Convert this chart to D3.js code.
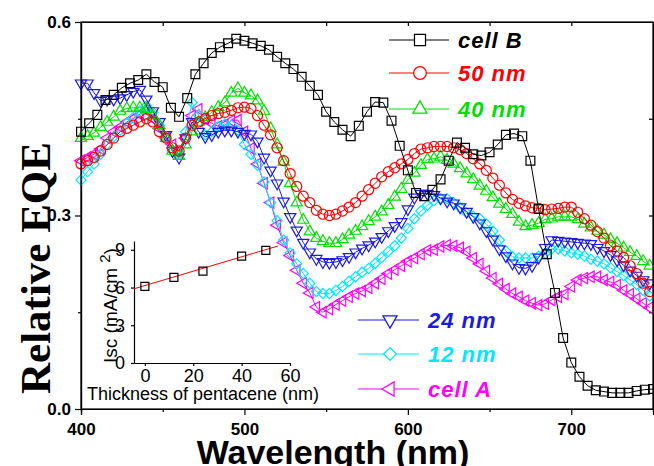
<!DOCTYPE html>
<html>
<head>
<meta charset="utf-8">
<script src="https://cdnjs.cloudflare.com/ajax/libs/d3/7.8.5/d3.min.js"></script>
<style>
body { margin: 0; background: #fff; }
svg { display: block; font-family: "Liberation Sans", Arial, sans-serif; }
.tick text { font-weight: bold; font-size: 17px; fill: #000; }
.inset .tick text { font-weight: normal; font-size: 18px; }
.domain { stroke: #000; stroke-width: 1.2; }
.tick line { stroke: #000; stroke-width: 1.2; }
.leg { font-weight: bold; font-style: italic; font-size: 22px; letter-spacing: 1px; }
</style>
</head>
<body>
<script>
// wavelength grids (nm)
var wlB = d3.range(400, 751, 5);   // cell B measured every 5 nm
var wl  = d3.range(400, 749, 4);   // the other cells every 4 nm

var cellB = [
  .43,.443,.456,.479,.487,.498,.505,.51,.519,.507,
  .499,.467,.453,.482,.519,.536,.552,.561,.567,.574,
  .571,.567,.563,.557,.546,.536,.527,.515,.501,.487,
  .461,.445,.433,.423,.439,.461,.476,.475,.447,.408,
  .37,.335,.33,.34,.356,.385,.413,.405,.395,.393,
  .398,.41,.425,.427,.423,.385,.31,.24,.18,.11,
  .072,.05,.036,.029,.027,.025,.025,.025,.028,.03,
  .031];

var nm50 = [
  .38,.385,.39,.40,.41,.42,.43,.435,.44,.445,
  .45,.445,.43,.42,.405,.40,.42,.44,.445,.45,
  .455,.458,.46,.463,.467,.468,.466,.455,.44,.425,
  .405,.385,.365,.345,.33,.32,.308,.302,.30,.302,
  .307,.313,.32,.33,.34,.35,.36,.368,.374,.38,
  .387,.396,.403,.405,.407,.407,.407,.405,.402,.396,
  .388,.38,.37,.358,.347,.335,.325,.319,.315,.312,
  .311,.309,.31,.311,.313,.313,.305,.295,.285,.275,
  .265,.253,.245,.235,.222,.21,.195,.182];

var nm40 = [
  .42,.423,.428,.437,.445,.453,.462,.466,.467,.467,
  .465,.455,.44,.42,.40,.392,.41,.43,.445,.452,
  .46,.468,.475,.49,.497,.49,.486,.478,.462,.435,
  .41,.383,.35,.32,.293,.275,.265,.26,.257,.257,
  .263,.27,.276,.283,.291,.298,.306,.316,.329,.341,
  .355,.366,.378,.387,.388,.391,.386,.38,.373,.365,
  .356,.346,.338,.328,.318,.31,.302,.29,.283,.285,
  .288,.294,.295,.298,.298,.298,.294,.287,.281,.276,
  .27,.263,.257,.25,.243,.237,.229,.222];

var nm24 = [
  .505,.505,.49,.478,.48,.48,.482,.487,.492,.495,
  .48,.462,.445,.425,.40,.39,.42,.445,.43,.422,
  .425,.43,.432,.432,.43,.427,.426,.415,.39,.37,
  .35,.322,.298,.277,.258,.243,.233,.228,.227,.228,
  .231,.236,.243,.249,.254,.26,.267,.276,.284,.29,
  .31,.328,.334,.334,.332,.327,.322,.319,.313,.306,
  .298,.288,.276,.263,.248,.237,.226,.219,.218,.222,
  .235,.25,.262,.261,.26,.259,.258,.257,.256,.25,
  .245,.239,.231,.223,.215,.207,.2,.195];

var nm12 = [
  .355,.368,.38,.395,.41,.422,.432,.443,.452,.462,
  .47,.46,.44,.42,.40,.395,.43,.475,.455,.425,
  .43,.438,.442,.44,.432,.41,.395,.378,.352,.32,
  .292,.262,.242,.225,.21,.195,.182,.179,.179,.184,
  .19,.198,.205,.212,.218,.226,.235,.244,.253,.265,
  .28,.295,.307,.316,.323,.326,.326,.32,.312,.304,
  .299,.295,.287,.276,.262,.245,.236,.234,.234,.234,
  .237,.241,.248,.248,.245,.242,.24,.237,.232,.229,
  .225,.219,.213,.207,.2,.193,.184,.175];

var cellA = [
  .385,.39,.395,.403,.42,.43,.437,.445,.45,.457,
  .463,.45,.435,.42,.41,.40,.42,.455,.465,.45,
  .443,.438,.44,.447,.448,.43,.404,.38,.35,.32,
  .285,.258,.238,.215,.195,.18,.158,.15,.155,.162,
  .168,.174,.179,.183,.188,.195,.202,.21,.216,.222,
  .229,.234,.24,.246,.247,.252,.254,.253,.25,.244,
  .234,.225,.214,.203,.194,.186,.179,.174,.168,.164,
  .161,.163,.169,.174,.178,.19,.2,.203,.205,.205,
  .2,.197,.192,.184,.178,.171,.164,.157];

// inset: short-circuit current vs pentacene thickness
var thick = [0, 12, 24, 40, 50];
var isc = [6.1, 6.8, 7.3, 8.5, 8.95];
var fitX = [-4.5, 55];
var fitY = [5.9, 9.3];

var xTicks = [400, 500, 600, 700];
var yTicks = [0, 0.3, 0.6];

var series = [
  { name: "cell A", x: wl,  y: cellA, color: "#ff00ff", shape: "left" },
  { name: "12 nm",  x: wl,  y: nm12,  color: "#00e8ff", shape: "diamond" },
  { name: "24 nm",  x: wl,  y: nm24,  color: "#1a1ae6", shape: "down" },
  { name: "40 nm",  x: wl,  y: nm40,  color: "#00e000", shape: "up" },
  { name: "50 nm",  x: wl,  y: nm50,  color: "#ff0000", shape: "circle" },
  { name: "cell B", x: wlB, y: cellB, color: "#000000", shape: "square" }
];

var W = 654, H = 466;
var svg = d3.select("body").append("svg").attr("width", W).attr("height", H);
svg.append("rect").attr("width", W).attr("height", H).attr("fill", "#fff");

var x = d3.scaleLinear().domain([400, 750]).range([81, 653]);
var y = d3.scaleLinear().domain([0, 0.6]).range([409, 22]);

function marker(shape) {
  var tri = d3.symbol().type(d3.symbolTriangle).size(55);
  if (shape == "square") return { d: d3.symbol().type(d3.symbolSquare).size(78)(), rot: 0 };
  if (shape == "circle") return { d: d3.symbol().type(d3.symbolCircle).size(80)(), rot: 0 };
  if (shape == "diamond") return { d: d3.symbol().type(d3.symbolSquare).size(52)(), rot: 45 };
  if (shape == "up") return { d: tri(), rot: 0 };
  if (shape == "down") return { d: tri(), rot: 180 };
  if (shape == "left") return { d: tri(), rot: -90 };
}

// axes
svg.append("g").attr("transform", "translate(0,409)")
  .call(d3.axisBottom(x).tickValues(xTicks).tickSize(6).tickPadding(8).tickFormat(d3.format("d")));
svg.append("g").attr("transform", "translate(0,409)")
  .call(d3.axisBottom(x).tickValues([450, 550, 650, 750]).tickSize(3).tickFormat(""));
svg.append("g").attr("transform", "translate(0,22)")
  .call(d3.axisTop(x).tickValues(d3.range(450, 750, 50)).tickSizeInner(-4).tickSizeOuter(0).tickFormat(""));
svg.append("g").attr("transform", "translate(81,0)")
  .call(d3.axisLeft(y).tickValues(yTicks).tickSize(6).tickPadding(4).tickFormat(d3.format(".1f")));
svg.append("g").attr("transform", "translate(81,0)")
  .call(d3.axisLeft(y).tickValues([0.15, 0.45]).tickSize(3).tickFormat(""));
svg.append("g").attr("transform", "translate(653,0)")
  .call(d3.axisRight(y).tickValues([0.15, 0.3, 0.45]).tickSizeInner(-4).tickSizeOuter(0).tickFormat(""));

// curves
var line = d3.line();
series.forEach(function (s) {
  var pts = s.y.map(function (v, i) { return [x(s.x[i]), y(v)]; });
  var g = svg.append("g");
  g.append("path").attr("d", line(pts)).attr("fill", "none")
    .attr("stroke", s.color).attr("stroke-width", 1);
  var m = marker(s.shape);
  g.selectAll("path.m").data(pts).enter().append("path").attr("class", "m")
    .attr("d", m.d)
    .attr("transform", function (p) { return "translate(" + p[0] + "," + p[1] + ") rotate(" + m.rot + ")"; })
    .attr("fill", "none").attr("stroke", s.color).attr("stroke-width", 1.2);
});

// frame
svg.append("rect").attr("x", 81).attr("y", 22).attr("width", 572).attr("height", 387)
  .attr("fill", "none").attr("stroke", "#000").attr("stroke-width", 1.2);

// legends
var legTop = [{ s: series[5], ly: 40 }, { s: series[4], ly: 73 }, { s: series[3], ly: 109 }];
var legBot = [{ s: series[2], ly: 320 }, { s: series[1], ly: 354 }, { s: series[0], ly: 389 }];
function legend(items, x0, x1, xm, xt) {
  items.forEach(function (it) {
    var s = it.s, m = marker(s.shape);
    svg.append("line").attr("x1", x0).attr("x2", x1).attr("y1", it.ly).attr("y2", it.ly)
      .attr("stroke", s.color).attr("stroke-width", 1);
    svg.append("path").attr("d", m.d)
      .attr("transform", "translate(" + xm + "," + it.ly + ") rotate(" + m.rot + ") scale(1.25)")
      .attr("fill", "#fff").attr("stroke", s.color).attr("stroke-width", 1);
    svg.append("text").attr("class", "leg").attr("x", xt).attr("y", it.ly + 8)
      .attr("fill", s.color).text(s.name);
  });
}
legend(legTop, 389, 449, 420, 458);
legend(legBot, 358, 419, 390, 428);

// axis titles
svg.append("text").attr("transform", "translate(50,268) rotate(-90)")
  .attr("text-anchor", "middle").style("font-family", "'Liberation Serif', 'Times New Roman', serif")
  .style("font-weight", "bold").style("font-size", "43px").text("Relative EQE");
svg.append("text").attr("x", 333).attr("y", 464).attr("text-anchor", "middle")
  .style("font-weight", "bold").style("font-size", "34px").text("Wavelength (nm)");

// inset
var ix = d3.scaleLinear().domain([-4.5, 60]).range([134, 290]);
var iy = d3.scaleLinear().domain([0, 9.7]).range([363, 241]);
var inset = svg.append("g").attr("class", "inset");
inset.append("g").attr("transform", "translate(0,363)")
  .call(d3.axisBottom(ix).tickValues([0, 20, 40, 60]).tickSize(3).tickPadding(3).tickSizeOuter(0));
inset.append("g").attr("transform", "translate(134,0)")
  .call(d3.axisLeft(iy).tickValues([0, 3, 6, 9]).tickSize(3).tickPadding(6).tickSizeOuter(0));
inset.append("path")
  .attr("d", d3.line()(fitX.map(function (v, i) { return [ix(v), iy(fitY[i])]; })))
  .attr("fill", "none").attr("stroke", "#ff0000").attr("stroke-width", 1);
inset.selectAll(".sq").data(thick).enter().append("path").attr("class", "sq")
  .attr("d", d3.symbol().type(d3.symbolSquare).size(64)())
  .attr("transform", function (d, i) { return "translate(" + ix(d) + "," + iy(isc[i]) + ")"; })
  .attr("fill", "none").attr("stroke", "#000").attr("stroke-width", 1.2);
inset.append("text").attr("x", 203).attr("y", 400).attr("text-anchor", "middle")
  .style("font-size", "18px").text("Thickness of pentacene (nm)");
var il = inset.append("text").attr("transform", "translate(117,363) rotate(-90)")
  .style("font-size", "19px");
il.append("tspan").text("Isc (mA/cm ");
il.append("tspan").attr("dy", -7).style("font-size", "15px").text("2");
il.append("tspan").attr("dy", 7).text(")");
</script>
</body>
</html>
